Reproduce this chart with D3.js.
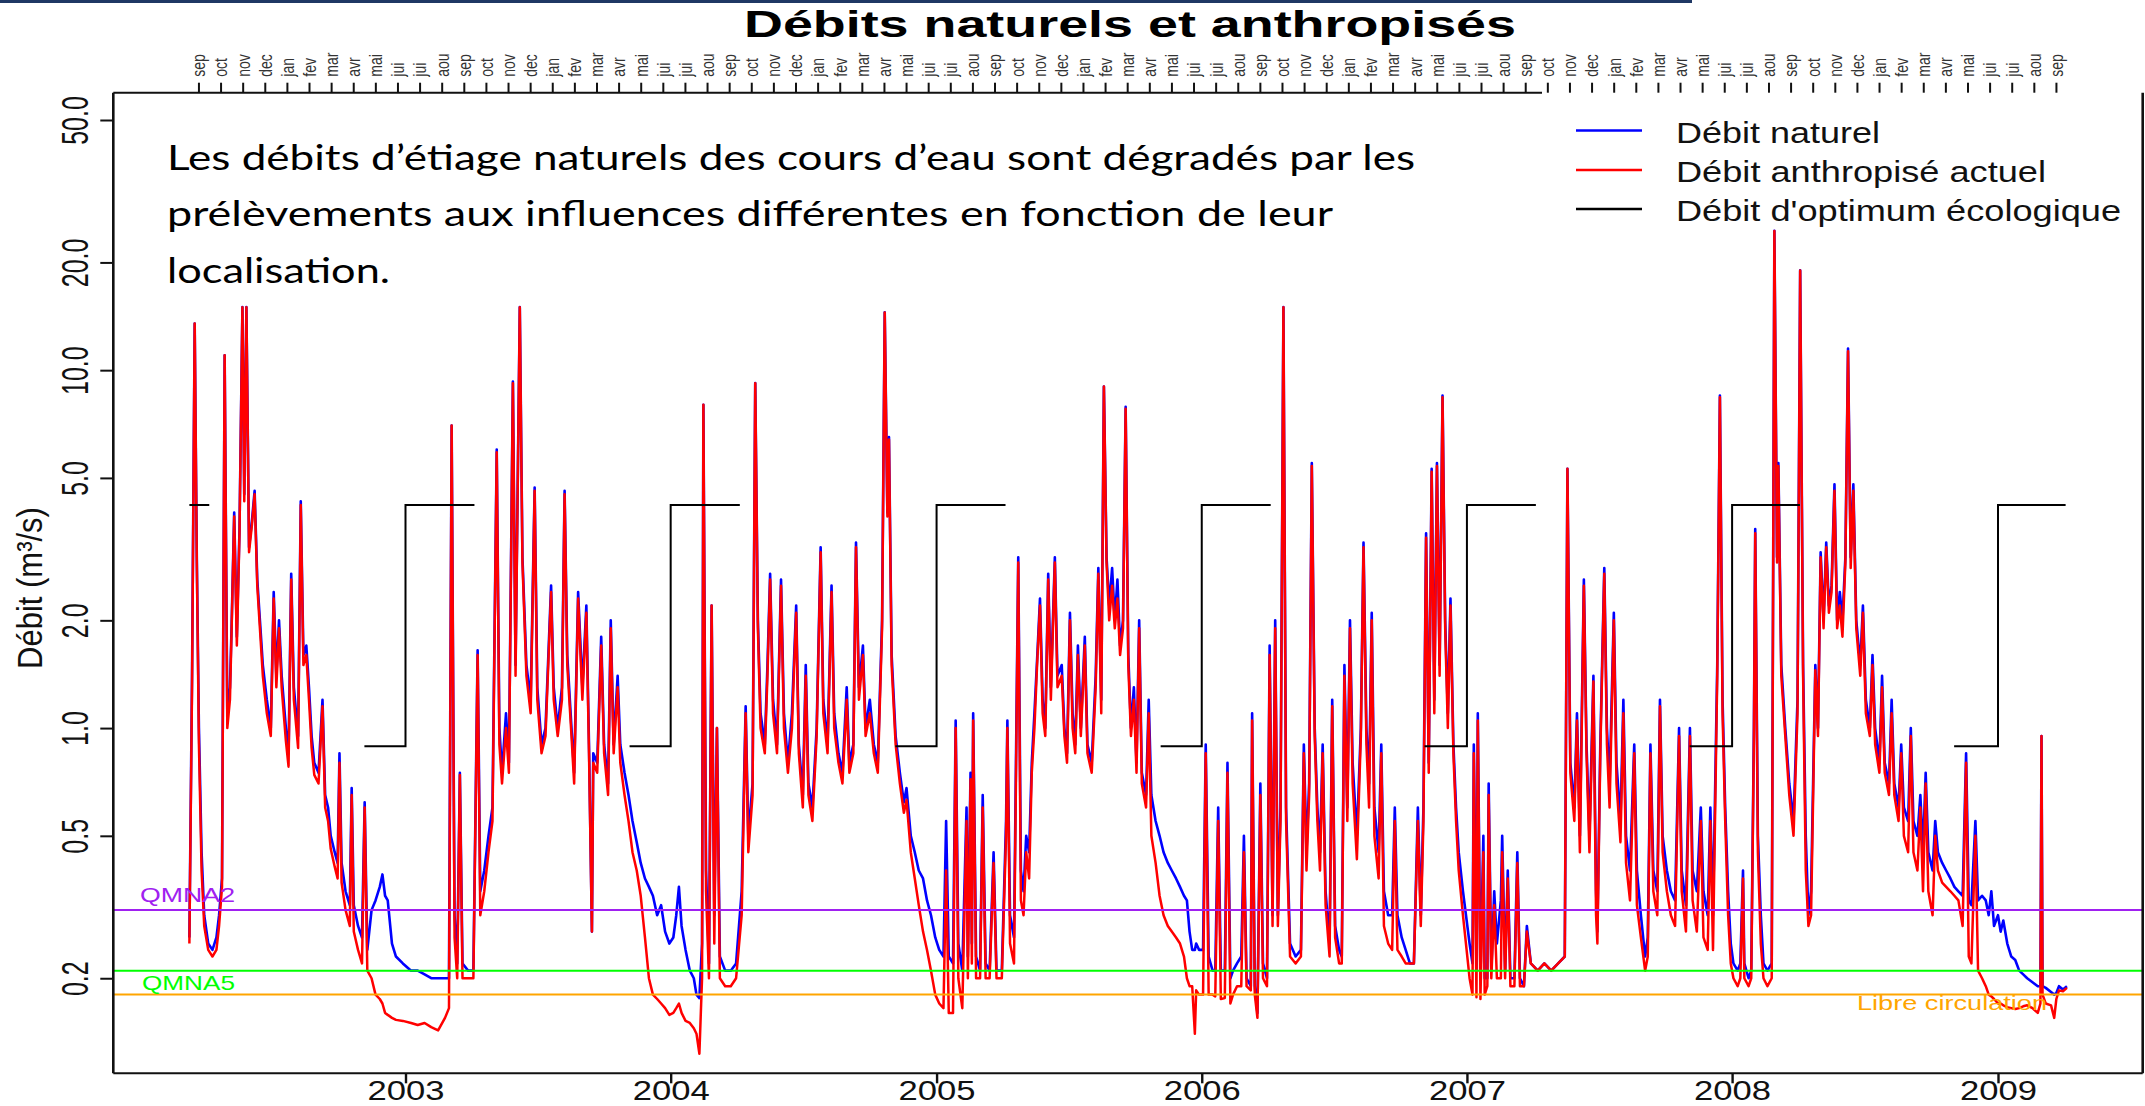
<!DOCTYPE html>
<html><head><meta charset="utf-8">
<script src="https://cdn.jsdelivr.net/npm/d3@7"></script>
<style>html,body{margin:0;padding:0;background:#fff;}svg{display:block;}</style>
</head><body>
<svg id="chart" width="2145" height="1106"></svg>
<script>
// ---------------- DATA (fractions of year, débits en m3/s) ----------------
const frac2002=[.185,.195,.205,.213,.221,.231,.241,.256,.272,.287,.297,.308,.318,.328,.338,.344,.354,.364,.374,.385,.392,.400,.410,.421,.431,.441,.451,.462,.477,.492,.503,.513,.523,.533,.549,.559,.569,.579,.595,.605,.615,.626,.636,.646,.656,.672,.687,.697,.708,.718,.733,.744,.751,.759,.774,.790,.797,.805,.821,.836,.846,.856,.872,.887,.903,.913,.923,.933,.949,.964,.990];
const nat2002=[0.26,1.4,13.5,3.0,1.0,0.45,0.3,0.25,0.24,0.26,0.3,0.38,11,1.1,1.3,1.9,4.0,1.8,3.6,15,4.5,15,3.2,3.8,4.6,2.6,2.0,1.5,1.2,1.0,2.4,1.4,2.0,1.4,1.0,0.85,2.7,1.3,0.95,4.3,1.6,1.7,1.3,0.95,0.8,0.75,1.2,0.65,0.6,0.5,0.45,0.42,0.85,0.42,0.35,0.32,0.68,0.32,0.28,0.26,0.62,0.24,0.31,0.33,0.36,0.39,0.34,0.33,0.25,0.23,0.22];
const ant2002=[0.25,1.3,13.5,2.9,0.9,0.4,0.28,0.24,0.23,0.24,0.28,0.36,11,1.0,1.2,1.85,3.9,1.7,3.5,15,4.3,15,3.1,3.7,4.5,2.5,1.9,1.4,1.1,0.95,2.3,1.3,1.9,1.3,0.92,0.78,2.6,1.2,0.88,4.2,1.5,1.6,1.2,0.88,0.74,0.7,1.15,0.6,0.55,0.46,0.41,0.38,0.8,0.37,0.31,0.28,0.65,0.27,0.24,0.22,0.6,0.21,0.2,0.18,0.175,0.17,0.16,0.158,0.155,0.153,0.152];

const frac2003=[.021,.046,.072,.097,.123,.149,.164,.174,.185,.195,.205,.215,.236,.256,.272,.282,.297,.313,.328,.344,.354,.364,.379,.390,.405,.415,.431,.441,.456,.472,.487,.497,.513,.528,.549,.559,.574,.590,.600,.610,.626,.636,.651,.667,.682,.692,.703,.708,.723,.738,.749,.764,.774,.785,.800,.810,.826,.841,.856,.872,.887,.903,.918,.933,.949,.964,.979,.995];
const nat2003=[0.21,0.21,0.205,0.2,0.2,0.2,0.2,7.0,0.3,0.22,0.75,0.22,0.21,0.21,1.65,0.35,0.4,0.5,0.6,6.0,1.0,0.75,1.1,0.8,9.3,1.5,15,3.0,1.5,1.2,4.7,1.3,0.9,1.0,2.5,1.3,1.0,1.3,4.6,1.6,1.0,0.75,2.4,1.3,2.2,0.9,0.27,0.85,0.8,1.8,0.9,0.7,2.0,0.9,1.4,0.9,0.75,0.65,0.55,0.48,0.42,0.38,0.36,0.34,0.3,0.32,0.27,0.25];
const ant2003=[0.15,0.148,0.15,0.146,0.143,0.155,0.165,7.0,0.26,0.2,0.74,0.2,0.2,0.2,1.6,0.3,0.35,0.45,0.55,5.9,0.9,0.7,1.0,0.75,9.2,1.4,15,2.9,1.4,1.1,4.6,1.2,0.85,0.95,2.4,1.2,0.95,1.2,4.5,1.5,0.95,0.7,2.3,1.2,2.1,0.85,0.27,0.8,0.75,1.7,0.85,0.65,1.9,0.85,1.3,0.8,0.65,0.55,0.45,0.4,0.34,0.26,0.2,0.18,0.175,0.17,0.165,0.158];

const frac2004=[.010,.021,.031,.041,.056,.072,.087,.097,.108,.118,.123,.133,.144,.154,.164,.174,.185,.205,.226,.246,.267,.282,.292,.308,.318,.328,.338,.354,.364,.374,.385,.400,.415,.426,.441,.456,.472,.482,.497,.508,.518,.533,.549,.564,.574,.590,.605,.615,.631,.646,.662,.672,.687,.697,.708,.723,.733,.749,.764,.779,.795,.805,.815,.821,.831,.846,.862,.877,.887,.903,.918,.933,.949,.964,.979,.995];
const nat2004=[0.26,0.3,0.36,0.28,0.24,0.21,0.2,0.18,0.176,0.25,8.0,0.4,0.22,2.2,0.3,1.0,0.23,0.21,0.21,0.22,0.35,1.15,0.5,0.7,9.2,2.0,1.1,0.9,1.5,2.7,1.2,0.9,2.6,1.1,0.8,1.1,2.2,0.9,0.65,1.5,0.7,0.6,1.0,3.2,1.2,0.9,2.5,1.1,0.85,0.75,1.3,0.8,0.9,3.3,1.3,1.7,1.0,1.2,0.9,0.8,2.0,14.5,4.0,6.5,1.6,0.95,0.75,0.62,0.68,0.5,0.45,0.4,0.38,0.33,0.3,0.26];
const ant2004=[0.16,0.165,0.17,0.16,0.152,0.15,0.145,0.14,0.123,0.2,8.0,0.35,0.2,2.2,0.25,1.0,0.2,0.19,0.19,0.2,0.3,1.1,0.45,0.65,9.2,1.9,1.0,0.85,1.4,2.6,1.1,0.85,2.5,1.0,0.75,1.0,2.1,0.85,0.6,1.4,0.65,0.55,0.95,3.1,1.1,0.85,2.4,1.0,0.8,0.7,1.2,0.75,0.85,3.2,1.2,1.6,0.95,1.1,0.85,0.75,1.9,14.5,3.9,6.4,1.5,0.9,0.7,0.58,0.63,0.45,0.38,0.32,0.27,0.24,0.21,0.18];

const frac2005=[.010,.026,.036,.046,.062,.072,.082,.097,.113,.118,.128,.133,.138,.149,.164,.174,.185,.200,.215,.226,.246,.262,.267,.277,.292,.308,.318,.328,.338,.349,.359,.369,.379,.390,.400,.410,.421,.431,.446,.456,.472,.482,.492,.503,.513,.523,.533,.544,.559,.569,.585,.600,.610,.621,.631,.641,.651,.662,.672,.682,.692,.703,.713,.723,.733,.744,.754,.764,.774,.790,.800,.810,.826,.841,.856,.872,.887,.903,.918,.933,.944,.954,.964,.974,.979,.990];
const nat2005=[0.24,0.23,0.55,0.23,0.22,1.05,0.25,0.21,0.6,0.23,0.75,0.25,1.1,0.23,0.21,0.65,0.22,0.21,0.45,0.21,0.21,0.55,1.05,0.3,0.26,3.0,0.4,0.35,0.5,0.45,0.8,1.1,1.55,2.3,1.2,1.0,2.7,1.3,3.0,1.4,1.5,1.0,0.85,2.1,1.1,0.9,1.7,1.0,1.8,0.9,0.8,1.4,2.8,1.2,9.0,3.0,2.2,2.8,2.0,2.6,1.7,2.0,7.9,1.6,1.0,1.3,0.8,2.0,0.75,0.65,1.2,0.65,0.55,0.5,0.45,0.42,0.4,0.38,0.36,0.34,0.33,0.27,0.24,0.24,0.25,0.24];
const ant2005=[0.17,0.165,0.4,0.16,0.16,1.0,0.2,0.165,0.55,0.2,0.72,0.22,1.05,0.2,0.2,0.6,0.2,0.2,0.42,0.2,0.2,0.5,1.0,0.25,0.22,2.9,0.33,0.3,0.45,0.38,0.75,1.0,1.5,2.2,1.1,0.95,2.6,1.2,2.9,1.3,1.4,0.95,0.8,2.0,1.0,0.85,1.6,0.95,1.7,0.85,0.75,1.3,2.7,1.1,9.0,2.9,2.0,2.5,1.9,2.3,1.6,1.9,7.8,1.5,0.95,1.2,0.75,1.9,0.7,0.6,1.1,0.5,0.42,0.34,0.3,0.28,0.27,0.26,0.25,0.23,0.2,0.19,0.19,0.14,0.185,0.18];

const frac2006=[.005,.015,.026,.041,.051,.062,.072,.087,.097,.108,.118,.133,.149,.159,.169,.185,.190,.200,.210,.221,.231,.246,.256,.267,.277,.287,.297,.308,.318,.333,.354,.374,.385,.395,.405,.415,.426,.436,.446,.456,.467,.482,.492,.503,.518,.528,.538,.549,.559,.569,.585,.600,.610,.621,.631,.641,.651,.667,.677,.687,.703,.718,.728,.738,.754,.769,.785,.800,.815,.826,.836,.846,.856,.867,.877,.887,.897,.908,.918,.928,.938,.949,.959,.969,.985];
const nat2006=[0.24,0.9,0.23,0.21,0.21,0.6,0.21,0.21,0.8,0.2,0.21,0.22,0.23,0.5,0.2,0.19,1.1,0.19,0.16,0.7,0.22,0.2,1.7,0.3,2.0,0.3,0.6,15,0.6,0.25,0.23,0.24,0.9,0.45,0.7,5.5,1.0,0.6,0.45,0.9,0.35,0.25,1.2,0.28,0.24,0.23,1.5,0.6,2.0,0.8,0.5,1.0,3.3,1.0,0.7,2.1,0.6,0.45,0.9,0.35,0.3,0.3,0.6,0.3,0.26,0.24,0.22,0.22,0.6,0.3,0.6,3.5,0.8,5.3,1.2,5.5,1.5,8.5,2.0,1.1,2.3,0.9,0.6,0.45,0.35];
const ant2006=[0.18,0.85,0.18,0.18,0.178,0.55,0.175,0.176,0.75,0.17,0.18,0.19,0.19,0.45,0.19,0.185,1.05,0.18,0.155,0.65,0.2,0.19,1.6,0.28,1.9,0.28,0.55,15,0.55,0.23,0.22,0.23,0.85,0.4,0.65,5.4,0.95,0.55,0.4,0.85,0.32,0.23,1.15,0.26,0.22,0.22,1.4,0.55,1.9,0.7,0.43,0.95,3.2,0.9,0.6,2.0,0.5,0.38,0.85,0.28,0.25,0.24,0.55,0.24,0.23,0.22,0.22,0.22,0.55,0.28,0.55,3.4,0.75,5.2,1.1,5.4,1.4,8.4,1.9,1.0,2.2,0.85,0.55,0.4,0.3];

const frac2007=[.010,.021,.026,.036,.041,.051,.062,.067,.077,.082,.092,.103,.113,.128,.133,.144,.154,.164,.179,.190,.200,.215,.226,.241,.267,.292,.318,.344,.369,.379,.390,.405,.415,.426,.441,.451,.462,.477,.487,.492,.503,.518,.528,.538,.554,.564,.579,.590,.600,.615,.631,.641,.656,.672,.682,.692,.703,.718,.728,.738,.754,.769,.785,.800,.810,.826,.841,.851,.867,.882,.892,.908,.918,.928,.944,.954,.964,.974,.985,.995];
const nat2007=[0.25,0.22,0.9,0.21,1.1,0.2,0.5,0.2,0.2,0.7,0.21,0.35,0.25,0.33,0.5,0.21,0.4,0.2,0.2,0.45,0.2,0.19,0.28,0.22,0.21,0.22,0.21,0.22,0.23,5.3,0.8,0.6,1.1,0.5,2.6,0.9,0.5,1.4,0.35,0.27,0.9,2.8,1.0,0.7,2.1,0.8,0.55,1.2,0.5,0.4,0.9,0.4,0.3,0.23,0.26,0.9,0.4,0.35,1.2,0.5,0.4,0.35,0.33,1.0,0.4,0.32,1.0,0.4,0.35,0.6,0.35,0.3,0.6,0.3,1.5,8.5,1.2,0.6,0.35,0.25];
const ant2007=[0.2,0.18,0.85,0.177,1.05,0.175,0.45,0.18,0.19,0.65,0.2,0.32,0.2,0.2,0.45,0.2,0.38,0.19,0.19,0.42,0.19,0.19,0.27,0.22,0.21,0.22,0.21,0.22,0.23,5.3,0.75,0.55,1.05,0.45,2.5,0.85,0.45,1.35,0.3,0.25,0.85,2.7,0.9,0.6,2.0,0.7,0.48,1.1,0.42,0.33,0.85,0.32,0.26,0.21,0.23,0.85,0.35,0.3,1.15,0.45,0.35,0.3,0.28,0.95,0.35,0.27,0.95,0.33,0.27,0.55,0.26,0.24,0.55,0.24,1.4,8.4,1.1,0.55,0.3,0.22];

const frac2008=[.005,.021,.031,.041,.046,.062,.072,.082,.087,.097,.108,.118,.133,.149,.159,.169,.174,.185,.200,.215,.231,.246,.256,.267,.277,.287,.297,.313,.323,.333,.344,.354,.364,.374,.385,.395,.405,.415,.426,.436,.446,.456,.467,.482,.492,.503,.518,.528,.538,.554,.564,.574,.590,.600,.610,.626,.636,.646,.662,.672,.682,.697,.708,.718,.728,.738,.754,.764,.774,.790,.805,.821,.836,.851,.867,.880,.890,.900,.915,.925,.940,.954,.965,.975,.985];
const nat2008=[0.22,0.21,0.22,0.4,0.22,0.2,0.21,1.0,3.6,0.5,0.3,0.22,0.21,0.22,24.5,3.0,5.5,1.5,1.0,0.7,0.55,1.2,19,1.5,0.5,0.3,0.35,1.5,1.0,3.1,2.0,3.3,2.2,2.5,4.8,2.0,2.4,2.0,3.0,11.5,3.0,4.8,2.0,1.5,2.2,1.2,1.0,1.6,1.0,0.8,1.4,0.8,0.7,1.2,0.7,0.6,0.9,0.6,0.55,1.0,0.55,0.5,0.65,0.45,0.75,0.45,0.4,0.55,0.45,0.42,0.4,0.38,0.36,0.35,0.34,0.85,0.33,0.32,0.55,0.33,0.34,0.33,0.3,0.35,0.28];
const ant2008=[0.2,0.19,0.2,0.38,0.2,0.19,0.2,0.95,3.5,0.45,0.25,0.2,0.19,0.2,24.5,2.9,5.4,1.4,0.95,0.65,0.5,1.1,19,1.4,0.4,0.28,0.3,1.45,0.95,3.0,1.9,3.2,2.1,2.4,4.6,1.9,2.2,1.8,2.9,11.3,2.8,4.6,1.9,1.4,2.1,1.1,0.95,1.5,0.9,0.75,1.3,0.75,0.65,1.1,0.65,0.55,0.85,0.5,0.45,0.95,0.45,0.4,0.6,0.35,0.7,0.35,0.3,0.5,0.4,0.37,0.36,0.35,0.34,0.33,0.28,0.8,0.23,0.22,0.5,0.21,0.2,0.19,0.18,0.178,0.175];

const frac2009=[.000,.010,.020,.035,.050,.065,.080,.095,.110,.130,.150,.160,.164,.168,.180,.200,.212,.220,.230,.245,.260];
const nat2009=[0.3,0.27,0.29,0.25,0.23,0.225,0.21,0.205,0.2,0.195,0.19,0.19,0.95,0.19,0.188,0.183,0.18,0.182,0.19,0.186,0.19];
const ant2009=[0.17,0.17,0.168,0.166,0.165,0.164,0.165,0.167,0.168,0.165,0.16,0.17,0.95,0.18,0.17,0.168,0.155,0.175,0.185,0.184,0.188];

// Débit d'optimum écologique: periods [start, end] in decimal years, low / high values
const optimumPeriodes=[[2002.185,2002.26],[2002.845,2003.26],[2003.845,2004.26],[2004.845,2005.26],[2005.845,2006.26],[2006.84,2007.26],[2007.84,2008.255],[2008.835,2009.255]];
const optimumBas=0.89, optimumHaut=4.2;

// Seuils
const seuilNoms=["QMNA2","QMNA5","Libre circulation"];
const seuilValeurs=[0.31,0.21,0.18];

// Axes
const anneesAxe=[2003,2004,2005,2006,2007,2008,2009];
const yTicks=[50,20,10,5,2,1,0.5,0.2];
const yTickLabels=["50.0","20.0","10.0","5.0","2.0","1.0","0.5","0.2"];
const moisNoms=["sep","oct","nov","dec","jan","fev","mar","avr","mai","jui","jui","aou"];
const moisDebut=[2002,2,22], nbMois=85;
const legendeNoms=["Débit naturel","Débit anthropisé actuel","Débit d'optimum écologique"];
const titre="Débits naturels et anthropisés";
const yTitre="Débit (m³/s)";
const annotation=["Les débits d’étiage naturels des cours d’eau sont dégradés par les","prélèvements aux influences différentes en fonction de leur","localisation."];

// ---------------- DRAWING ----------------
const svg=d3.select("#chart");
const F={l:113.3,r:2142.7,t:92.7,b:1073.3};
const FONT="'Liberation Sans', Arial, Helvetica, sans-serif";

function decToDate(t){const y=Math.floor(t+1e-9);const a=Date.UTC(y,0,1),b=Date.UTC(y+1,0,1);return new Date(a+(t-y)*(b-a));}

const x=d3.scaleUtc().domain([new Date(Date.UTC(2003,0,1)),new Date(Date.UTC(2009,0,1))]).range([405.5,1998]);
const y=d3.scaleLog().domain([0.1085,59.6]).range([F.b,F.t]);

// slide header line
svg.append("rect").attr("x",0).attr("y",0).attr("width",1692).attr("height",3).attr("fill","#1F3864");

const years=[[2002,frac2002,nat2002,ant2002],[2003,frac2003,nat2003,ant2003],[2004,frac2004,nat2004,ant2004],[2005,frac2005,nat2005,ant2005],[2006,frac2006,nat2006,ant2006],[2007,frac2007,nat2007,ant2007],[2008,frac2008,nat2008,ant2008],[2009,frac2009,nat2009,ant2009]];
const serieNat=[],serieAnt=[];
years.forEach(([yr,fr,na,an])=>{
  const n=Math.min(fr.length,na.length,an.length);
  for(let i=0;i<n;i++){const d=decToDate(yr+fr[i]);serieNat.push({d,v:na[i]});serieAnt.push({d,v:an[i]});}
});

svg.append("defs").append("clipPath").attr("id","clip").append("rect")
  .attr("x",F.l).attr("y",F.t).attr("width",F.r-F.l).attr("height",F.b-F.t);
const plot=svg.append("g").attr("clip-path","url(#clip)");
const line=d3.line().x(d=>x(d.d)).y(d=>y(d.v));

plot.append("path").datum(serieNat).attr("d",line).attr("fill","none").attr("stroke","#0000FF").attr("stroke-width",2.6).attr("stroke-linejoin","round");
plot.append("path").datum(serieAnt).attr("d",line).attr("fill","none").attr("stroke","#FF0000").attr("stroke-width",2.5).attr("stroke-linejoin","round");

// optimum
optimumPeriodes.forEach(([a,b])=>{
  let pts;
  if(a-Math.floor(a)>0.5){const j=Math.ceil(a);pts=[{d:decToDate(a),v:optimumBas},{d:decToDate(j),v:optimumBas},{d:decToDate(j),v:optimumHaut},{d:decToDate(b),v:optimumHaut}];}
  else pts=[{d:decToDate(a),v:optimumHaut},{d:decToDate(b),v:optimumHaut}];
  plot.append("path").datum(pts).attr("d",line).attr("fill","none").attr("stroke","#000").attr("stroke-width",2);
});

// seuils
const seuilCouleurs=["#A020F0","#00FF00","#FFA500"];
seuilValeurs.forEach((v,i)=>{
  svg.append("line").attr("x1",F.l).attr("x2",F.r).attr("y1",y(v)).attr("y2",y(v)).attr("stroke",seuilCouleurs[i]).attr("stroke-width",2);
});
const seuilLab=[{x:140,dy:-8,w:95},{x:142,dy:19,w:93},{x:1857,dy:15,w:190}];
seuilNoms.forEach((s,i)=>{
  svg.append("text").attr("x",seuilLab[i].x).attr("y",y(seuilValeurs[i])+seuilLab[i].dy).text(s)
    .attr("font-family",FONT).attr("font-size",21).attr("fill",seuilCouleurs[i])
    .attr("textLength",seuilLab[i].w).attr("lengthAdjust","spacingAndGlyphs");
});

// frame
const frame=svg.append("g").attr("stroke","#111").attr("fill","none");
frame.append("line").attr("x1",F.l).attr("x2",F.l).attr("y1",F.t).attr("y2",F.b).attr("stroke-width",2.6);
frame.append("line").attr("x1",F.r).attr("x2",F.r).attr("y1",F.t).attr("y2",F.b).attr("stroke-width",2.6);
frame.append("line").attr("x1",F.l).attr("x2",F.r).attr("y1",F.b).attr("y2",F.b).attr("stroke-width",2);
frame.append("line").attr("x1",F.l).attr("x2",1542).attr("y1",F.t).attr("y2",F.t).attr("stroke-width",2);

// bottom axis
const gx=svg.append("g").attr("transform",`translate(0,${F.b})`)
  .call(d3.axisBottom(x).tickValues(anneesAxe.map(a=>new Date(Date.UTC(a,0,1)))).tickFormat(d3.utcFormat("%Y")).tickSize(10));
gx.select(".domain").remove();
gx.selectAll(".tick line").attr("stroke","#111").attr("stroke-width",2.4);
gx.selectAll(".tick text").attr("y",26.5).attr("dy",0).attr("font-family",FONT).attr("font-size",27).attr("fill","#111")
  .attr("textLength",77).attr("lengthAdjust","spacingAndGlyphs");

// left axis
const gy=svg.append("g").attr("transform",`translate(${F.l},0)`)
  .call(d3.axisLeft(y).tickValues(yTicks).tickFormat((d,i)=>yTickLabels[i]).tickSize(13));
gy.select(".domain").remove();
gy.selectAll(".tick line").attr("stroke","#111").attr("stroke-width",2);
gy.selectAll(".tick text").attr("x",0).attr("y",0).attr("dy",0).attr("text-anchor","middle")
  .attr("transform","translate(-25.3,0) rotate(-90) scale(1,1.5)")
  .attr("font-family",FONT).attr("font-size",25).attr("fill","#111");

// top month axis
const yearMs=365.25*864e5;
const t0=Date.UTC(moisDebut[0],moisDebut[1],moisDebut[2]);
const moisTicks=d3.range(nbMois).map(i=>new Date(t0+i*yearMs/12));
const gt=svg.append("g").attr("transform",`translate(0,${F.t})`)
  .call(d3.axisTop(x).tickValues(moisTicks).tickFormat((d,i)=>moisNoms[i%12]).tickSize(10));
gt.select(".domain").remove();
gt.selectAll(".tick line").attr("stroke","#111").attr("stroke-width",2);
gt.selectAll(".tick text").attr("x",0).attr("y",0).attr("dy","0.35em").attr("text-anchor","start")
  .attr("transform","translate(0,-16) rotate(-90) scale(1,1.3)")
  .attr("font-family",FONT).attr("font-size",14).attr("fill","#333");

// y title
svg.append("text").attr("transform","translate(42,588) rotate(-90) scale(1,1.12)").attr("text-anchor","middle")
  .attr("font-family",FONT).attr("font-size",31).attr("fill","#111").text(yTitre);

// title
svg.append("text").attr("x",744).attr("y",37).attr("font-family",FONT).attr("font-weight","bold").attr("font-size",37)
  .attr("fill","#000").attr("textLength",772).attr("lengthAdjust","spacingAndGlyphs").text(titre);

// legend
const legCouleurs=["#0000FF","#FF0000","#000000"];
const legY=[130.5,170,209], legW=[204,370,445];
legendeNoms.forEach((s,i)=>{
  svg.append("line").attr("x1",1576).attr("x2",1642).attr("y1",legY[i]).attr("y2",legY[i]).attr("stroke",legCouleurs[i]).attr("stroke-width",2.4);
  svg.append("text").attr("x",1676).attr("y",legY[i]+12).attr("font-family",FONT).attr("font-size",29).attr("fill","#111")
    .attr("textLength",legW[i]).attr("lengthAdjust","spacingAndGlyphs").text(s);
});

// annotation
const annY=[170,226,283], annW=[1248,1166,223];
annotation.forEach((s,i)=>{
  svg.append("text").attr("x",167).attr("y",annY[i]).attr("font-family","Lato, 'Open Sans', sans-serif").attr("font-size",35)
    .attr("fill","#000").attr("textLength",annW[i]).attr("lengthAdjust","spacingAndGlyphs").text(s);
});
</script>
</body></html>
